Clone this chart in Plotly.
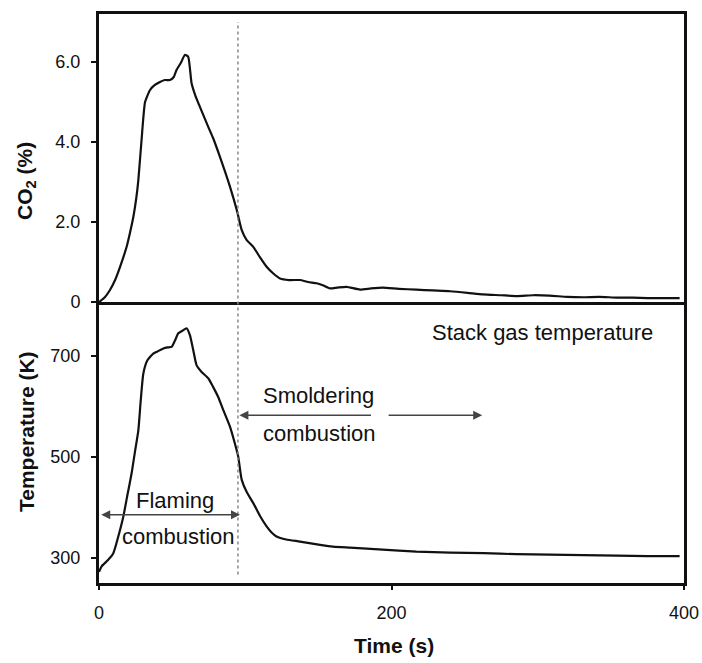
import plotly.graph_objects as go

# ---- data ----
co2_time = [0, 4, 7.5, 11, 14.4, 18.9, 21, 23.5, 25.5, 26.9, 29.1, 31.5, 34.9, 38, 41.7,
            45, 48.5, 51, 53, 56, 58.8, 61, 63.3, 66, 69, 74.7, 78, 82.7, 86, 89.6, 94.2,
            97.6, 101, 105.5, 110, 114.6, 119, 123.8, 130, 137.4, 143, 148.8, 153, 157.9,
            163, 169.3, 178.5, 186, 194, 205, 217, 228, 240, 252, 262.6, 275, 285.6, 297,
            308, 320, 331, 342, 354, 365, 375, 386, 397]
co2_pct = [0, 0.12, 0.3, 0.55, 0.88, 1.38, 1.7, 2.13, 2.6, 3.05, 4.05, 5.0, 5.3, 5.42,
           5.5, 5.55, 5.55, 5.62, 5.8, 5.98, 6.18, 6.13, 5.47, 5.15, 4.88, 4.38, 4.1,
           3.63, 3.28, 2.88, 2.3, 1.8, 1.55, 1.38, 1.12, 0.88, 0.72, 0.59, 0.55, 0.55,
           0.5, 0.47, 0.42, 0.34, 0.36, 0.38, 0.31, 0.34, 0.36, 0.33, 0.31, 0.29, 0.27,
           0.23, 0.19, 0.17, 0.15, 0.17, 0.16, 0.13, 0.12, 0.13, 0.11, 0.11, 0.1, 0.1, 0.1]

temp_time = [0, 1.8, 6, 9.8, 13, 16.6, 19.5, 22.3, 24.5, 26.9, 28.5, 30.3, 33, 37.1, 40,
             44, 47, 49.6, 52, 54.2, 57, 59.9, 62.2, 64.5, 66.7, 70, 74.7, 78, 81.5, 85,
             89.6, 93, 95.2, 97.6, 101, 105.5, 110, 114.6, 118, 121.4, 128, 137.4, 148,
             160, 171.6, 183, 194, 205, 217, 240, 263, 285, 308, 331, 354, 375, 397]
temp_k = [272, 283, 295, 309, 340, 381, 425, 467, 508, 552, 610, 664, 690, 704, 708,
          714, 716, 717, 730, 744, 749, 754, 740, 710, 681, 668, 655, 638, 618, 592,
          559, 525, 500, 454, 430, 408, 383, 362, 350, 342, 336, 332, 327, 322, 320,
          318, 316, 314, 312, 310, 309, 307, 306, 305, 304, 303, 303]

co2_ticks = [0, 2, 4, 6]
co2_ticktext = ["0", "2.0", "4.0", "6.0"]
temp_ticks = [300, 500, 700]
time_ticks = [0, 200, 400]

FONT = "Liberation Sans, Arial, Helvetica, sans-serif"
INK = "#111111"

fig = go.Figure()
fig.add_trace(go.Scatter(x=co2_time, y=co2_pct, mode="lines", xaxis="x", yaxis="y",
                         line=dict(color=INK, width=2.2, shape="spline", smoothing=0.5),
                         showlegend=False))
fig.add_trace(go.Scatter(x=temp_time, y=temp_k, mode="lines", xaxis="x2", yaxis="y2",
                         line=dict(color=INK, width=2.2, shape="spline", smoothing=0.5),
                         showlegend=False))

axis_common = dict(showline=True, linecolor=INK, linewidth=3, mirror=True,
                   showgrid=False, zeroline=False, tickcolor=INK, tickwidth=2,
                   tickfont=dict(family=FONT, size=18, color=INK))

fig.update_layout(
    width=702, height=663,
    margin=dict(l=99, r=18, t=14, b=80, autoexpand=False),
    paper_bgcolor="white", plot_bgcolor="white",
    font=dict(family=FONT, color=INK),
    xaxis=dict(axis_common, domain=[0, 1], anchor="y", range=[0, 400],
               tickvals=time_ticks, showticklabels=False, ticks="", matches="x2"),
    yaxis=dict(axis_common, domain=[0.4938, 1], anchor="x", range=[0, 7.2],
               tickvals=co2_ticks, ticktext=co2_ticktext, ticks="outside", ticklen=5,
               ticklabelstandoff=7),
    xaxis2=dict(axis_common, domain=[0, 1], anchor="y2", range=[0, 400],
                tickvals=time_ticks, ticks="outside", ticklen=4, ticklabelstandoff=7),
    yaxis2=dict(axis_common, domain=[0, 0.4886], anchor="x2", range=[250, 800],
                tickvals=temp_ticks, ticks="outside", ticklen=5, ticklabelstandoff=7),
)

# dotted separator between flaming and smoldering
fig.add_shape(type="line", xref="x2", yref="paper", x0=95, x1=95, y0=0.015, y1=0.986,
              line=dict(color="#888888", width=1.5, dash="dot"))

ann_font = dict(family=FONT, size=22, color=INK)
title_font = dict(family=FONT, size=21, color=INK)

annotations = [
    # axis titles
    dict(text="<b>CO<sub>2</sub> (%)</b>", xref="paper", yref="paper", x=-0.1248, y=0.7065,
         xanchor="center", yanchor="middle", textangle=-90, showarrow=False, font=title_font),
    dict(text="<b>Temperature (K)</b>", xref="paper", yref="paper", x=-0.1248, y=0.267,
         xanchor="center", yanchor="middle", textangle=-90, showarrow=False, font=title_font),
    dict(text="<b>Time (s)</b>", xref="paper", yref="paper", x=0.505, y=-0.109,
         xanchor="center", yanchor="middle", showarrow=False, font=title_font),
    # panel labels
    dict(text="Stack gas temperature", xref="x2", yref="y2", x=303, y=745,
         showarrow=False, font=ann_font),
    dict(text="Smoldering", xref="x2", yref="y2", x=111, y=621, xanchor="left",
         showarrow=False, font=ann_font),
    dict(text="combustion", xref="x2", yref="y2", x=111, y=546, xanchor="left",
         showarrow=False, font=ann_font),
    dict(text="Flaming", xref="x2", yref="y2", x=52, y=414,
         showarrow=False, font=ann_font),
    dict(text="combustion", xref="x2", yref="y2", x=54.4, y=341,
         showarrow=False, font=ann_font),
    # arrows
    dict(text="", xref="x2", yref="y2", axref="x2", ayref="y2",
         x=96, y=582, ax=187, ay=582, showarrow=True, arrowhead=2, arrowsize=1.2,
         arrowwidth=1.5, arrowcolor="#444444"),
    dict(text="", xref="x2", yref="y2", axref="x2", ayref="y2",
         x=262, y=582, ax=197, ay=582, showarrow=True, arrowhead=2, arrowsize=1.2,
         arrowwidth=1.5, arrowcolor="#444444"),
    dict(text="", xref="x2", yref="y2", axref="x2", ayref="y2",
         x=96.4, y=385, ax=0.5, ay=385, showarrow=True, arrowhead=2, arrowsize=1.2,
         arrowwidth=1.5, arrowcolor="#444444", arrowside="end+start"),
]
fig.update_layout(annotations=annotations)

fig.write_html("out.html", config={"displayModeBar": False},
               post_script="document.body.style.margin='0';")
